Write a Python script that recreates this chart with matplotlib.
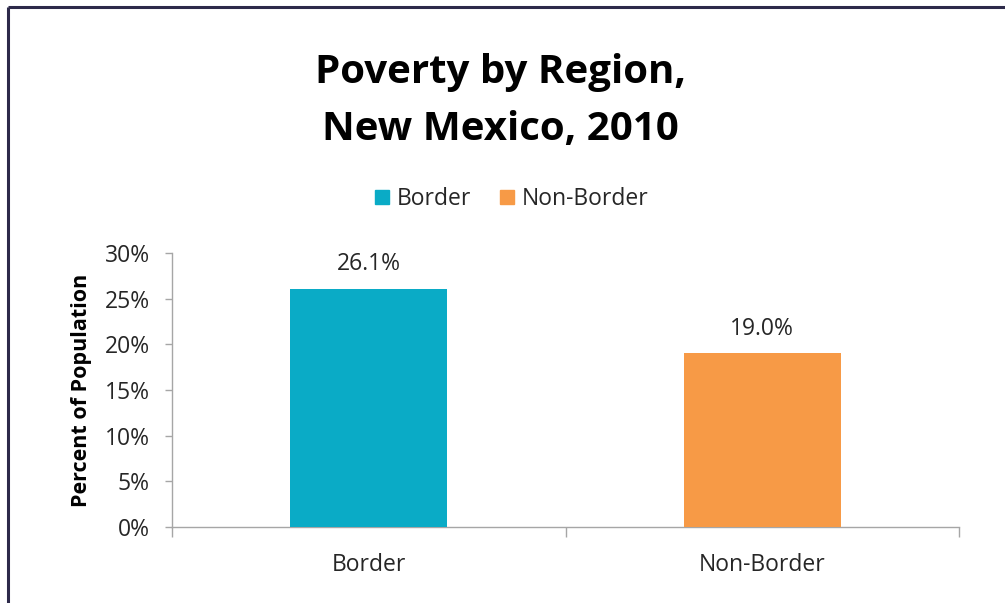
import matplotlib
matplotlib.use("Agg")
import matplotlib.pyplot as plt
from matplotlib.lines import Line2D
from matplotlib.ticker import FixedLocator, PercentFormatter

# Data
regions = ["Border", "Non-Border"]
poverty_pct = [26.1, 19.0]
bar_colors = ["#0aabc6", "#f79a46"]
y_ticks = [0, 5, 10, 15, 20, 25, 30]

plt.rcParams["font.family"] = ["Open Sans", "DejaVu Sans"]
text_color = "#262626"
axis_gray = "#a6a6a6"
fs = 16.5

W, H = 1005, 603
fig = plt.figure(figsize=(W / 100, H / 100), dpi=100)
fig.patch.set_facecolor("white")

ax = fig.add_axes([172 / W, 1 - 527 / H, (959 - 172) / W, (527 - 253) / H])

x = list(range(len(regions)))
bars = ax.bar(x, poverty_pct, width=0.4, color=bar_colors, zorder=3)

ax.set_xlim(-0.5, len(regions) - 0.5)
ax.set_ylim(0, 30)
ax.set_yticks(y_ticks)
ax.yaxis.set_major_formatter(PercentFormatter(decimals=0))
ax.set_xticks(x)
ax.set_xticklabels(regions)
ax.xaxis.set_minor_locator(FixedLocator([-0.5, 0.5, 1.5]))

for s in ("top", "right"):
    ax.spines[s].set_visible(False)
for s in ("left", "bottom"):
    ax.spines[s].set_color(axis_gray)
    ax.spines[s].set_linewidth(1.0)

ax.tick_params(axis="y", length=5, width=1, color=axis_gray, labelsize=fs,
               labelcolor=text_color, pad=11)
ax.tick_params(axis="x", which="major", length=0, labelsize=fs,
               labelcolor=text_color, pad=19)
ax.tick_params(axis="x", which="minor", length=7, width=1, color=axis_gray)

ax.set_ylabel("Percent of Population", fontsize=15.5, fontweight="bold",
              color="black", labelpad=9)

for rect, v in zip(bars, poverty_pct):
    ax.annotate(f"{v:.1f}%", (rect.get_x() + rect.get_width() / 2, v),
                xytext=(0, 9), textcoords="offset points",
                ha="center", va="bottom", fontsize=fs, color=text_color)

fig.text(500 / W, 1 - 101 / H, "Poverty by Region,\nNew Mexico, 2010",
         ha="center", va="center", fontsize=29, fontweight="bold",
         color="black", linespacing=1.58)

handles = [plt.Rectangle((0, 0), 1, 1, color=c) for c in bar_colors]
fig.legend(handles, regions, loc="center", bbox_to_anchor=(512 / W, 1 - 199 / H),
           ncol=2, frameon=False, fontsize=fs, handlelength=0.6,
           handleheight=0.6, handletextpad=0.35, columnspacing=1.25,
           labelcolor=text_color, borderpad=0)

# Frame around the chart area (left and top edges)
frame_color = "#2d2a4a"
fig.add_artist(Line2D([8 / W, 8 / W], [1 - 7 / H, 0], transform=fig.transFigure,
                      color=frame_color, linewidth=2.2, solid_capstyle="butt"))
fig.add_artist(Line2D([8 / W, 1], [1 - 7 / H, 1 - 7 / H], transform=fig.transFigure,
                      color=frame_color, linewidth=2.2, solid_capstyle="butt"))

fig.savefig("out.png", dpi=100, facecolor="white")
